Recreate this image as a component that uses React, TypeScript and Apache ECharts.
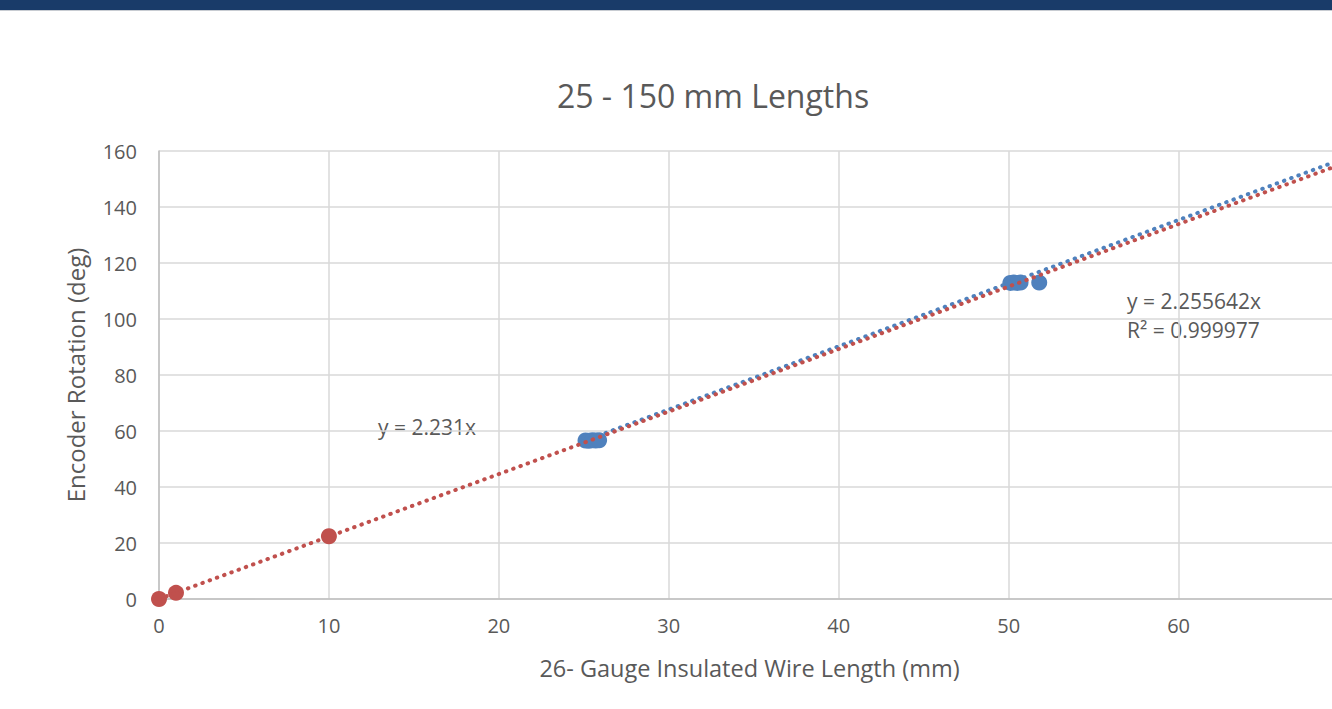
import React, { useEffect, useRef } from "react";
import * as echarts from "echarts";

const xTicks = [0, 10, 20, 30, 40, 50, 60];
const yTicks = [0, 20, 40, 60, 80, 100, 120, 140, 160];

// Blue series: 25 mm and 50 mm measurements
const blueData: number[][] = [
  [25.1, 56.6], [25.3, 56.5], [25.5, 56.7], [25.7, 56.6], [25.9, 56.7],
  [50.1, 112.9], [50.3, 113.0], [50.5, 112.9], [50.7, 113.0], [51.8, 113.0],
];
// Red series: short lengths
const redData: number[][] = [
  [0, 0], [1, 2.2], [10, 22.4],
];
// Trendlines (endpoints)
const blueTrend: number[][] = [[25, 56.4], [69.5, 156.8]];
const redTrend: number[][] = [[0, 0], [69.5, 155.1]];

const BLUE = "#4f81bd";
const RED = "#c0504d";
const TXT = "#595959";
const FONT = "Open Sans";
const W = 1340;
const H = 709;

export default function App() {
  const ref = useRef<HTMLDivElement>(null);
  useEffect(() => {
    const chart = echarts.init(ref.current!, null, { renderer: "svg", width: W, height: H });
    chart.setOption({
      animation: false,
      backgroundColor: "#ffffff",
      textStyle: { fontFamily: FONT, color: TXT },
      title: {
        text: "25 - 150 mm Lengths",
        left: 708,
        top: 74,
        textAlign: "center",
        textStyle: { fontFamily: FONT, fontSize: 32, fontWeight: "normal", color: TXT },
      },
      graphic: [
        { type: "rect", left: 0, top: 0, shape: { width: W, height: 10 }, style: { fill: "#193b69" } },
        { type: "rect", left: 0, top: 10, shape: { width: W, height: 1 }, style: { fill: "#c8ccd2" } },
        { type: "text", left: 378, top: 416, style: { text: "y = 2.231x", fontFamily: FONT, fontSize: 21, fill: TXT } },
        { type: "text", left: 1127, top: 286, style: { text: "y = 2.255642x\nR² = 0.999977", fontFamily: FONT, fontSize: 21, lineHeight: 29, fill: TXT } },
      ],
      grid: { left: 159, right: 0, top: 151, bottom: 110, containLabel: false },
      xAxis: {
        type: "value",
        min: 0,
        max: 69.5,
        interval: 10,
        name: "26- Gauge Insulated Wire Length (mm)",
        nameLocation: "middle",
        nameGap: 57,
        nameTextStyle: { fontFamily: FONT, fontSize: 23.5, color: TXT },
        axisLine: { show: true, lineStyle: { color: "#bfbfbf", width: 1.5 } },
        axisTick: { show: false },
        splitLine: { show: true, showMaxLine: false, lineStyle: { color: "#d9d9d9", width: 1.5 } },
        axisLabel: { fontFamily: FONT, fontSize: 20, color: TXT, margin: 16, showMaxLabel: false },
      },
      yAxis: {
        type: "value",
        min: 0,
        max: 160,
        interval: 20,
        name: "Encoder Rotation (deg)",
        nameLocation: "middle",
        nameGap: 72,
        nameTextStyle: { fontFamily: FONT, fontSize: 24, color: TXT },
        axisLine: { show: true, lineStyle: { color: "#bfbfbf", width: 1.5 } },
        axisTick: { show: false },
        splitLine: { show: true, lineStyle: { color: "#d9d9d9", width: 1.5 } },
        axisLabel: { fontFamily: FONT, fontSize: 20, color: TXT, margin: 22 },
      },
      series: [
        {
          type: "scatter",
          data: blueData,
          symbolSize: 16,
          itemStyle: { color: BLUE, opacity: 1 },
          clip: false,
          z: 2,
        },
        {
          type: "scatter",
          data: redData,
          symbolSize: 16,
          itemStyle: { color: RED, opacity: 1 },
          clip: false,
          z: 3,
        },
        {
          type: "line",
          data: blueTrend,
          showSymbol: false,
          symbol: "none",
          lineStyle: { color: BLUE, width: 4, type: [0.5, 7.2], cap: "round" },
          z: 4,
        },
        {
          type: "line",
          data: redTrend,
          showSymbol: false,
          symbol: "none",
          lineStyle: { color: RED, width: 4, type: [0.5, 7.2], cap: "round" },
          z: 5,
        },
      ],
    });
    return () => chart.dispose();
  }, []);
  return (
    <div style={{ position: "fixed", left: 0, top: 0, width: 1332, height: H, overflow: "hidden" }}>
      <div ref={ref} style={{ width: W, height: H }} />
    </div>
  );
}
